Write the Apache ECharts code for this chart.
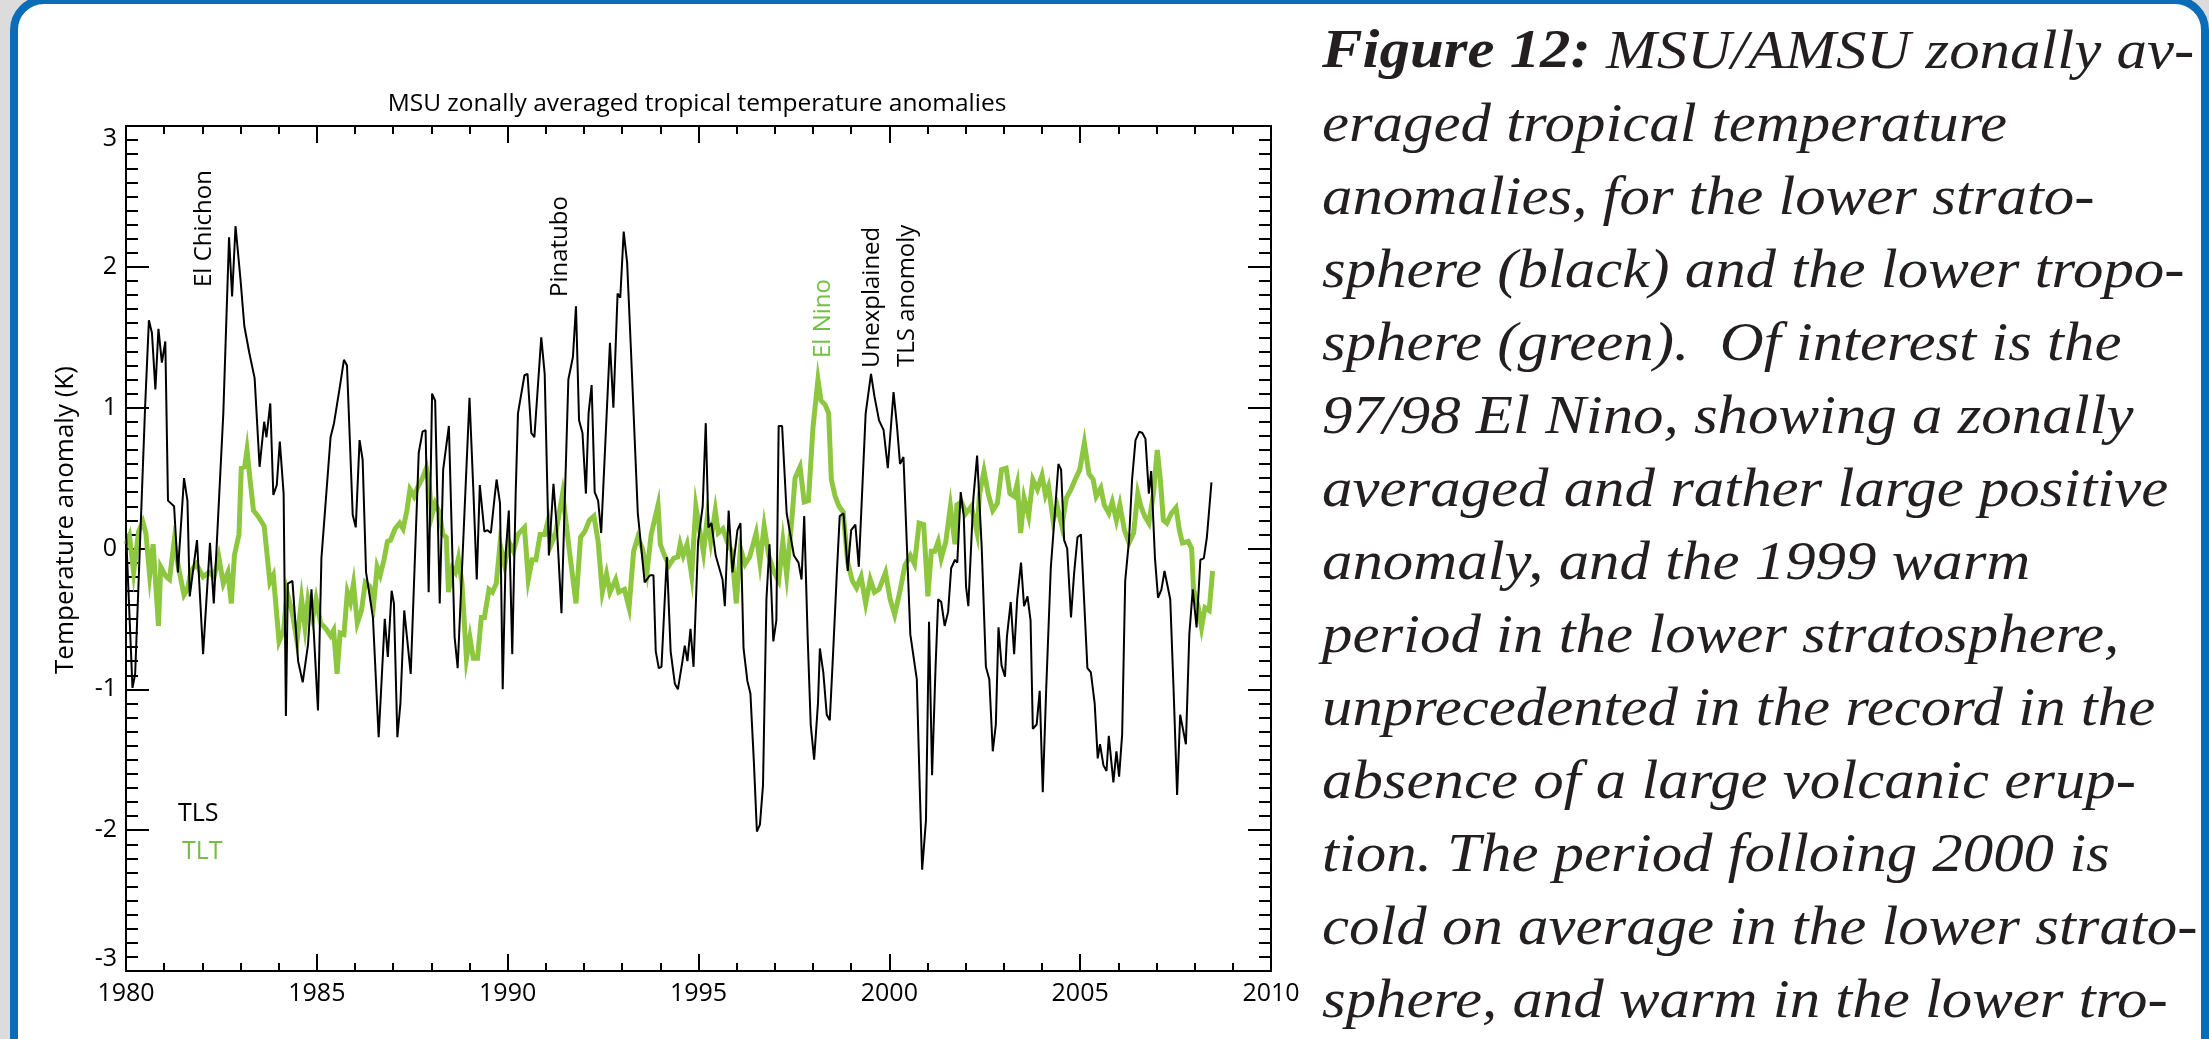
<!DOCTYPE html>
<html><head><meta charset="utf-8">
<script src="https://cdn.jsdelivr.net/npm/echarts/dist/echarts.min.js"></script>
<style>html,body{margin:0;padding:0;background:#dcdcdc;overflow:hidden}#c{width:2209px;height:1039px}</style>
</head><body><div id="c"></div>
<script>
// ---- data ----
const tlsYears = [1980.00,1980.17,1980.24,1980.50,1980.60,1980.68,1980.77,1980.85,1980.94,1981.03,1981.10,1981.26,1981.36,1981.52,1981.61,1981.67,1981.86,1982.02,1982.20,1982.30,1982.55,1982.70,1982.78,1982.87,1983.00,1983.10,1983.23,1983.37,1983.50,1983.62,1983.68,1983.78,1983.86,1983.95,1984.03,1984.13,1984.19,1984.24,1984.36,1984.51,1984.63,1984.77,1984.86,1985.03,1985.12,1985.36,1985.45,1985.61,1985.71,1985.79,1985.94,1986.02,1986.12,1986.20,1986.29,1986.47,1986.62,1986.78,1986.86,1986.96,1987.02,1987.11,1987.19,1987.29,1987.46,1987.67,1987.77,1987.85,1987.93,1988.02,1988.10,1988.22,1988.31,1988.46,1988.61,1988.69,1989.00,1989.10,1989.19,1989.27,1989.39,1989.47,1989.56,1989.66,1989.71,1989.80,1989.87,1989.95,1990.03,1990.12,1990.21,1990.27,1990.44,1990.52,1990.62,1990.70,1990.88,1990.97,1991.08,1991.20,1991.30,1991.41,1991.59,1991.71,1991.79,1991.87,1991.96,1992.05,1992.12,1992.20,1992.28,1992.37,1992.45,1992.68,1992.77,1992.88,1992.95,1993.04,1993.13,1993.23,1993.41,1993.59,1993.73,1993.82,1993.88,1993.96,1994.03,1994.17,1994.27,1994.38,1994.46,1994.58,1994.64,1994.71,1994.79,1994.87,1994.99,1995.11,1995.19,1995.26,1995.34,1995.45,1995.63,1995.69,1995.79,1995.89,1996.02,1996.10,1996.18,1996.28,1996.36,1996.45,1996.53,1996.61,1996.69,1996.78,1996.86,1996.96,1997.04,1997.10,1997.19,1997.31,1997.50,1997.62,1997.70,1997.77,1997.86,1997.94,1998.03,1998.13,1998.18,1998.27,1998.36,1998.44,1998.52,1998.62,1998.70,1998.80,1998.91,1999.00,1999.11,1999.20,1999.38,1999.52,1999.61,1999.73,1999.85,1999.96,2000.11,2000.20,2000.28,2000.37,2000.55,2000.72,2000.80,2000.86,2000.96,2001.04,2001.12,2001.21,2001.28,2001.36,2001.45,2001.54,2001.62,2001.72,2001.78,2001.87,2001.95,2002.01,2002.07,2002.20,2002.30,2002.42,2002.53,2002.62,2002.71,2002.79,2002.86,2002.94,2003.03,2003.08,2003.18,2003.27,2003.35,2003.45,2003.53,2003.62,2003.70,2003.76,2003.86,2003.94,2004.02,2004.11,2004.23,2004.35,2004.43,2004.50,2004.58,2004.66,2004.76,2004.84,2004.93,2005.02,2005.19,2005.28,2005.38,2005.46,2005.52,2005.61,2005.69,2005.75,2005.87,2005.95,2006.02,2006.10,2006.18,2006.28,2006.36,2006.45,2006.55,2006.63,2006.71,2006.80,2006.86,2006.96,2007.04,2007.13,2007.21,2007.36,2007.45,2007.54,2007.62,2007.77,2007.86,2007.95,2008.05,2008.15,2008.24,2008.32,2008.44];
const tlsValues = [0.12,-0.99,-0.89,1.00,1.62,1.53,1.13,1.56,1.32,1.47,0.34,0.30,-0.17,0.50,0.34,-0.34,0.06,-0.75,0.04,-0.39,0.96,2.21,1.79,2.29,1.91,1.58,1.39,1.21,0.58,0.90,0.79,1.03,0.38,0.45,0.76,0.39,-1.19,-0.25,-0.23,-0.80,-0.95,-0.68,-0.29,-1.15,-0.07,0.79,0.89,1.16,1.34,1.30,0.24,0.15,0.77,0.63,-0.17,-0.49,-1.34,-0.50,-0.77,-0.30,-0.39,-1.34,-1.10,-0.44,-0.89,0.68,0.83,0.84,-0.31,1.10,1.05,-0.39,0.56,0.87,-0.63,-0.85,1.07,0.42,-0.22,0.45,0.12,0.13,0.11,0.37,0.49,0.32,-1.00,-0.03,0.27,-0.75,0.39,0.96,1.23,1.24,0.82,0.79,1.50,1.24,-0.05,0.46,0.10,-0.46,1.20,1.36,1.72,0.91,0.82,0.39,0.96,1.16,0.40,0.34,0.11,1.46,1.00,1.81,1.78,2.25,2.03,1.41,0.25,-0.24,-0.19,-0.19,-0.73,-0.85,-0.84,-0.06,-0.73,-0.96,-1.00,-0.80,-0.69,-0.80,-0.57,-0.84,0.05,0.30,0.89,0.15,0.18,-0.05,-0.22,-0.41,0.27,-0.17,0.13,0.18,-0.71,-0.94,-1.03,-1.51,-2.01,-1.96,-1.68,-0.36,0.03,-0.66,-0.51,0.87,0.87,0.25,-0.05,-0.10,-0.22,0.23,-0.63,-1.25,-1.50,-1.10,-0.71,-0.88,-1.18,-1.22,-0.78,-0.20,0.23,0.25,-0.16,0.13,0.17,-0.13,0.96,1.24,1.08,0.91,0.84,0.57,1.11,0.87,0.60,0.65,-0.61,-0.93,-1.73,-2.28,-1.93,-0.52,-1.61,-0.85,-0.36,-0.38,-0.55,-0.45,-0.14,-0.08,-0.10,0.40,0.23,-0.27,-0.41,0.35,0.66,0.01,-0.84,-0.93,-1.44,-1.25,-0.56,-0.83,-0.91,-0.63,-0.38,-0.75,-0.36,-0.10,-0.41,-0.34,-0.51,-1.28,-1.25,-1.01,-1.73,-1.00,-0.14,0.30,0.60,0.56,0.06,0.00,-0.49,-0.18,0.08,0.10,-0.85,-0.88,-1.10,-1.49,-1.39,-1.54,-1.58,-1.33,-1.66,-1.44,-1.62,-1.32,-0.23,0.06,0.49,0.77,0.83,0.82,0.78,0.39,0.55,-0.07,-0.35,-0.29,-0.16,-0.36,-1.02,-1.75,-1.18,-1.39,-0.61,-0.29,-0.56,-0.08,-0.07,0.08,0.47];
const tltYears = [1980.00,1980.09,1980.20,1980.33,1980.44,1980.52,1980.62,1980.71,1980.85,1980.91,1981.05,1981.14,1981.26,1981.38,1981.52,1981.61,1981.70,1981.84,1982.02,1982.17,1982.31,1982.43,1982.55,1982.67,1982.76,1982.84,1982.96,1983.02,1983.11,1983.17,1983.25,1983.34,1983.46,1983.62,1983.77,1983.86,1984.01,1984.13,1984.22,1984.36,1984.48,1984.60,1984.69,1984.77,1984.89,1984.98,1985.10,1985.24,1985.36,1985.44,1985.53,1985.61,1985.71,1985.80,1985.88,1985.96,1986.06,1986.17,1986.27,1986.39,1986.49,1986.58,1986.66,1986.76,1986.85,1986.93,1987.05,1987.17,1987.26,1987.36,1987.44,1987.55,1987.63,1987.75,1987.87,1987.95,1988.01,1988.10,1988.22,1988.30,1988.39,1988.45,1988.55,1988.63,1988.71,1988.80,1988.92,1989.01,1989.10,1989.21,1989.31,1989.39,1989.51,1989.60,1989.70,1989.80,1989.92,1990.03,1990.15,1990.27,1990.44,1990.54,1990.64,1990.74,1990.85,1990.97,1991.06,1991.14,1991.26,1991.44,1991.61,1991.79,1991.91,1992.02,1992.14,1992.26,1992.37,1992.48,1992.59,1992.68,1992.83,1992.91,1993.06,1993.18,1993.30,1993.41,1993.53,1993.65,1993.76,1993.94,1994.00,1994.11,1994.23,1994.35,1994.46,1994.52,1994.60,1994.70,1994.82,1994.93,1995.05,1995.13,1995.23,1995.32,1995.44,1995.52,1995.64,1995.75,1995.87,1995.99,1996.10,1996.22,1996.34,1996.51,1996.61,1996.72,1996.84,1996.98,1997.10,1997.21,1997.31,1997.45,1997.53,1997.66,1997.77,1997.88,1998.00,1998.13,1998.21,1998.32,1998.41,1998.48,1998.58,1998.68,1998.79,1998.91,1999.03,1999.14,1999.26,1999.38,1999.50,1999.61,1999.73,1999.90,2000.02,2000.14,2000.28,2000.41,2000.55,2000.66,2000.78,2000.90,2001.01,2001.10,2001.19,2001.28,2001.36,2001.48,2001.60,2001.72,2001.77,2001.89,2002.01,2002.15,2002.30,2002.36,2002.48,2002.59,2002.71,2002.83,2002.94,2003.06,2003.16,2003.27,2003.35,2003.44,2003.53,2003.65,2003.76,2003.88,2004.00,2004.09,2004.17,2004.29,2004.40,2004.52,2004.64,2004.76,2004.87,2004.99,2005.11,2005.23,2005.34,2005.42,2005.54,2005.63,2005.75,2005.84,2005.95,2006.04,2006.16,2006.28,2006.40,2006.51,2006.59,2006.69,2006.80,2006.92,2007.02,2007.10,2007.18,2007.27,2007.39,2007.51,2007.60,2007.68,2007.83,2007.92,2007.97,2008.09,2008.18,2008.27,2008.38,2008.47];
const tltValues = [0.03,0.09,-0.17,0.12,0.19,0.11,-0.19,0.03,-0.55,-0.13,-0.20,-0.22,0.05,-0.14,-0.33,-0.29,-0.16,-0.11,-0.20,-0.17,-0.20,-0.06,-0.25,-0.17,-0.39,-0.05,0.10,0.57,0.58,0.70,0.49,0.27,0.23,0.16,-0.24,-0.19,-0.66,-0.58,-0.31,-0.46,-0.66,-0.36,-0.56,-0.36,-0.50,-0.36,-0.53,-0.57,-0.62,-0.58,-0.89,-0.60,-0.61,-0.31,-0.38,-0.25,-0.53,-0.44,-0.24,-0.27,-0.39,-0.13,-0.19,-0.08,0.05,0.06,0.14,0.18,0.14,0.27,0.42,0.37,0.43,0.49,0.57,0.44,0.23,0.32,0.25,0.10,0.08,-0.31,-0.14,-0.17,-0.07,-0.24,-0.78,-0.63,-0.78,-0.78,-0.49,-0.49,-0.29,-0.31,-0.25,0.03,-0.12,0.05,-0.02,0.10,0.15,-0.22,-0.08,-0.08,0.10,0.10,0.20,0.03,0.11,0.39,0.00,-0.39,0.08,0.12,0.20,0.23,0.05,-0.31,-0.18,-0.31,-0.22,-0.31,-0.29,-0.42,-0.02,0.08,0.00,-0.17,0.10,0.31,0.03,-0.05,-0.12,-0.07,-0.06,0.03,-0.05,0.03,-0.19,0.30,0.10,-0.03,0.22,0.05,0.27,0.11,0.14,0.05,-0.02,-0.39,0.00,-0.11,-0.06,0.11,-0.10,0.16,-0.05,-0.17,-0.23,0.05,-0.19,0.22,0.50,0.58,0.33,0.34,0.86,1.20,1.05,1.02,0.96,0.49,0.37,0.30,0.26,-0.10,-0.23,-0.28,-0.20,-0.39,-0.22,-0.31,-0.29,-0.17,-0.36,-0.47,-0.30,-0.12,-0.05,-0.11,0.18,0.17,-0.34,-0.02,-0.02,0.05,-0.07,0.05,0.30,0.03,0.31,0.33,0.25,0.30,0.11,0.38,0.55,0.39,0.27,0.32,0.56,0.57,0.39,0.37,0.46,0.11,0.36,0.23,0.49,0.42,0.52,0.38,0.44,0.20,0.30,0.16,0.36,0.42,0.49,0.56,0.75,0.53,0.49,0.37,0.43,0.31,0.25,0.33,0.20,0.31,0.13,0.04,0.11,0.39,0.30,0.23,0.18,0.39,0.70,0.49,0.20,0.18,0.25,0.29,0.13,0.04,0.05,0.00,-0.29,-0.41,-0.56,-0.42,-0.44,-0.16];
const xTickLabels = [1980, 1985, 1990, 1995, 2000, 2005, 2010];
const yTickLabels = [-3, -2, -1, 0, 1, 2, 3];
const chartTitle = 'MSU zonally averaged tropical temperature anomalies';
const yAxisTitle = 'Temperature anomaly (K)';
const seriesNames = ['TLS', 'TLT'];
const annotations = ['El Chichon', 'Pinatubo', 'El Nino', 'Unexplained', 'TLS anomoly'];
const captionLines = [
  'Figure 12:', ' MSU/AMSU zonally av-',
  'eraged tropical temperature',
  'anomalies, for the lower strato-',
  'sphere (black) and the lower tropo-',
  'sphere (green).  Of interest is the',
  '97/98 El Nino, showing a zonally',
  'averaged and rather large positive',
  'anomaly, and the 1999 warm',
  'period in the lower stratosphere,',
  'unprecedented in the record in the',
  'absence of a large volcanic erup-',
  'tion. The period folloing 2000 is',
  'cold on average in the lower strato-',
  'sphere, and warm in the lower tro-'
];

// ---- build ----
const BLACK = '#000000', GREEN = '#8dc63f', GREEN_TXT = '#72bf44', BLUE = '#0b6db7';
const FONT = '"Open Sans", "Noto Sans", sans-serif';
const SERIF = '"Liberation Serif", "DejaVu Serif", serif';
const pairs = (xs, ys) => xs.map((x, i) => [x, ys[i]]);

const capText = '{b|' + captionLines[0] + '}{n|' + captionLines[1] + '}\n' +
  captionLines.slice(2).map(s => '{n|' + s + '}').join('\n');

const axisCommon = {
  type: 'value',
  axisLine: { show: true, onZero: false, lineStyle: { color: BLACK, width: 2 } },
  splitLine: { show: false },
  axisTick: { show: true, inside: true, lineStyle: { color: BLACK, width: 2 } },
  minorTick: { show: true, lineStyle: { color: BLACK, width: 2 } },
};
const xAx = (pos, showLabel) => Object.assign({}, axisCommon, {
  position: pos, min: xTickLabels[0], max: xTickLabels[xTickLabels.length - 1], interval: 5,
  axisTick: Object.assign({}, axisCommon.axisTick, { length: 17 }),
  minorTick: Object.assign({}, axisCommon.minorTick, { splitNumber: 5, length: 8 }),
  axisLabel: { show: showLabel, fontSize: 25, fontFamily: FONT, color: BLACK, margin: 10,
    showMinLabel: true, showMaxLabel: true, formatter: v => String(v) }
});
const yAx = (pos, showLabel) => Object.assign({}, axisCommon, {
  position: pos, min: yTickLabels[0], max: yTickLabels[yTickLabels.length - 1], interval: 1,
  axisTick: Object.assign({}, axisCommon.axisTick, { length: 23 }),
  minorTick: Object.assign({}, axisCommon.minorTick, { splitNumber: 10, length: 12 }),
  axisLabel: { show: showLabel, fontSize: 25, fontFamily: FONT, color: BLACK, margin: 9,
    showMinLabel: true, showMaxLabel: true,
    verticalAlignMaxLabel: 'top', verticalAlignMinLabel: 'bottom',
    formatter: v => String(v) }
});

const vText = (txt, x, y, color) => ({
  type: 'text', x: x, y: y, rotation: Math.PI / 2, silent: true,
  style: { text: txt, font: '24px ' + FONT, fill: color, align: 'left', verticalAlign: 'middle' }
});

const chart = echarts.init(document.getElementById('c'), null, { renderer: 'canvas' });
chart.setOption({
  animation: false,
  backgroundColor: '#dcdcdc',
  grid: { left: 126, top: 126, width: 1145, height: 845, containLabel: false },
  xAxis: [xAx('bottom', true), xAx('top', false)],
  yAxis: [yAx('left', true), yAx('right', false)],
  series: [
    { name: seriesNames[1], type: 'line', xAxisIndex: 0, yAxisIndex: 0, data: pairs(tltYears, tltValues),
      showSymbol: false, symbol: 'none', lineStyle: { color: GREEN, width: 5, join: 'miter' }, z: 2 },
    { name: seriesNames[0], type: 'line', xAxisIndex: 0, yAxisIndex: 0, data: pairs(tlsYears, tlsValues),
      showSymbol: false, symbol: 'none', lineStyle: { color: BLACK, width: 2 }, z: 3 }
  ],
  graphic: [
    { type: 'rect', z: -100, silent: true, shape: { x: 14, y: 0, width: 2191, height: 1400, r: 30 },
      style: { fill: '#ffffff', stroke: BLUE, lineWidth: 8 } },
    { type: 'text', x: 697, y: 104, silent: true,
      style: { text: chartTitle, font: '24.5px ' + FONT, fill: BLACK, align: 'center', verticalAlign: 'middle' } },
    { type: 'text', x: 66, y: 520, rotation: Math.PI / 2, silent: true,
      style: { text: yAxisTitle, font: '26px ' + FONT, fill: BLACK, align: 'center', verticalAlign: 'middle' } },
    { type: 'text', x: 178, y: 814, silent: true,
      style: { text: seriesNames[0], font: '25px ' + FONT, fill: BLACK, align: 'left', verticalAlign: 'middle' } },
    { type: 'text', x: 182, y: 852, silent: true,
      style: { text: seriesNames[1], font: '25px ' + FONT, fill: GREEN_TXT, align: 'left', verticalAlign: 'middle' } },
    vText(annotations[0], 204, 287, BLACK),
    vText(annotations[1], 560, 297, BLACK),
    vText(annotations[2], 823, 358, GREEN_TXT),
    vText(annotations[3], 872, 368, BLACK),
    vText(annotations[4], 907, 367, BLACK),
    { type: 'text', x: 1322, y: 17, scaleX: 1.127, silent: true,
      style: { text: capText, align: 'left', verticalAlign: 'top', fill: '#231f20',
        rich: {
          b: { font: 'italic bold 54px ' + SERIF, lineHeight: 73, fill: '#231f20' },
          n: { font: 'italic 54px ' + SERIF, lineHeight: 73, fill: '#231f20' }
        } } }
  ]
});
</script>
</body></html>
